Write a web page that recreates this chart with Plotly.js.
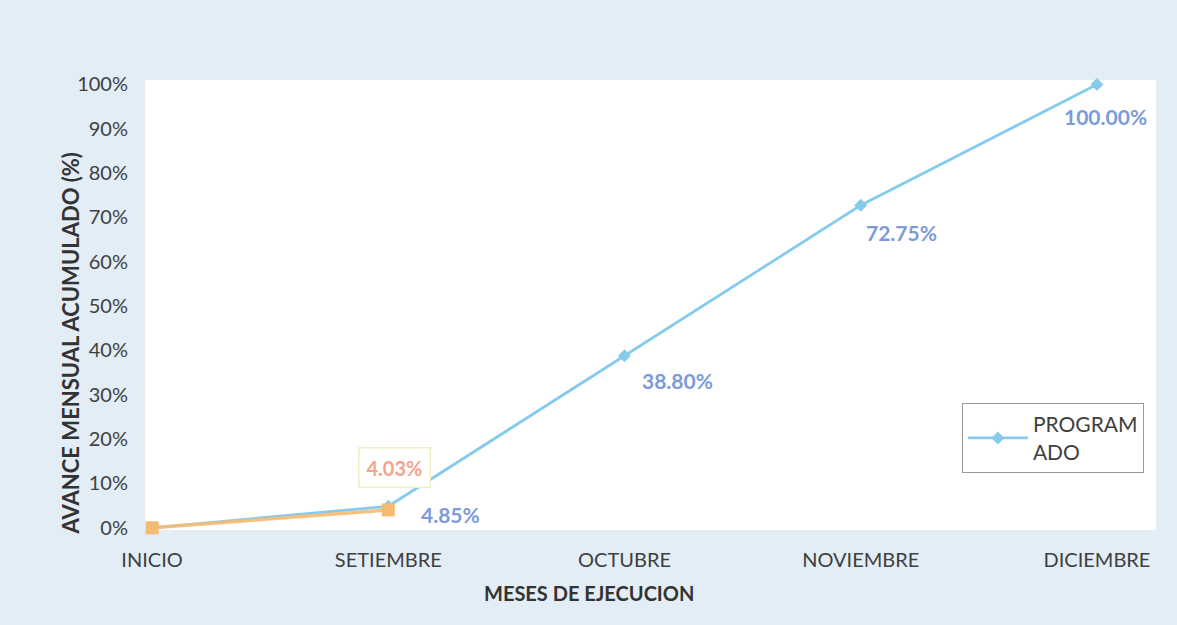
<!DOCTYPE html>
<html><head><meta charset="utf-8">
<script src="https://cdn.plot.ly/plotly-3.0.1.min.js"></script>
<style>body{margin:0;background:#e3edf6;}#chart{width:1177px;height:625px;}</style>
</head><body><div id="chart"></div>
<script>
var categories = ["INICIO", "SETIEMBRE", "OCTUBRE", "NOVIEMBRE", "DICIEMBRE"];
var programado = [0, 0.0485, 0.3880, 0.7275, 1.0000];
var ejecutadoCats = ["INICIO", "SETIEMBRE"];
var ejecutado = [0, 0.0403];
var yTicks = [0, 0.1, 0.2, 0.3, 0.4, 0.5, 0.6, 0.7, 0.8, 0.9, 1.0];
var xTitle = "MESES DE EJECUCION";
var yTitle = "AVANCE MENSUAL ACUMULADO (%)";

var FONT = "Lato, 'Open Sans', sans-serif";

var traceProg = {
  x: categories, y: programado, type: "scatter", mode: "lines+markers",
  name: "PROGRAM<br>ADO",
  line: {color: "#86cbed", width: 2.8},
  marker: {symbol: "diamond", size: 10, color: "#86cbed"},
  cliponaxis: false
};
var traceEjec = {
  x: ejecutadoCats, y: ejecutado, type: "scatter", mode: "lines+markers",
  name: "EJECUTADO", showlegend: false,
  line: {color: "rgba(246,187,114,0.9)", width: 3.5},
  marker: {symbol: "square", size: 13, color: "#f6bb72"},
  cliponaxis: false
};

// label offsets (pixels) for each programado label, indices 1..4
var lblDx = [0, 62, 53, 41, 9];
var lblDy = [0, -8, -25, -27, -32];

var annotations = [];
for (var i = 1; i < categories.length; i++) {
  annotations.push({
    x: categories[i], y: programado[i], xref: "x", yref: "y",
    text: (programado[i] * 100).toFixed(2) + "%",
    showarrow: false, xanchor: "center", yanchor: "middle",
    xshift: lblDx[i], yshift: lblDy[i],
    font: {family: FONT, size: 21, color: "#7b9bdb", weight: "bold"}
  });
}
annotations.push({
  x: ejecutadoCats[1], y: ejecutado[1], xref: "x", yref: "y",
  text: (ejecutado[1] * 100).toFixed(2) + "%",
  showarrow: false, xanchor: "center", yanchor: "middle", yshift: 42, xshift: 6,
  bgcolor: "#ffffff", bordercolor: "#eef0c4", borderwidth: 1.5, borderpad: 7,
  font: {family: FONT, size: 20, color: "#f4a48c", weight: "bold"}
});
annotations.push({
  x: 0.439, y: 0, xref: "paper", yref: "paper", yshift: -63,
  text: xTitle, showarrow: false, xanchor: "center", yanchor: "middle",
  font: {family: FONT, size: 20, color: "#333333", weight: "bold"}
});
annotations.push({
  x: -0.074, y: 0.415, xref: "paper", yref: "paper",
  text: yTitle, showarrow: false, textangle: -90, xanchor: "center", yanchor: "middle",
  font: {family: FONT, size: 22, color: "#333333", weight: "bold"}
});

var layout = {
  width: 1177, height: 625,
  paper_bgcolor: "#e3edf6", plot_bgcolor: "#ffffff",
  margin: {l: 145, r: 21, t: 80, b: 95},
  font: {family: FONT, color: "#404040"},
  xaxis: {
    type: "category", range: [-0.03, 4.25],
    showgrid: false, zeroline: false, showline: false, ticks: "",
    ticklabelstandoff: 16,
    tickfont: {size: 20, color: "#404040"}
  },
  yaxis: {
    range: [-0.005, 1.01], tickvals: yTicks, tickformat: ".0%",
    showgrid: false, zeroline: false, showline: false, ticks: "",
    ticklabelstandoff: 16,
    tickfont: {size: 20, color: "#404040"}
  },
  legend: {
    x: 0.808, y: 0.282, xanchor: "left", yanchor: "top",
    bgcolor: "#ffffff", bordercolor: "#999999", borderwidth: 1,
    font: {size: 21, color: "#404040"}, itemwidth: 60
  },
  showlegend: true,
  annotations: annotations
};

Plotly.newPlot("chart", [traceProg, traceEjec], layout, {displayModeBar: false});
</script></body></html>
